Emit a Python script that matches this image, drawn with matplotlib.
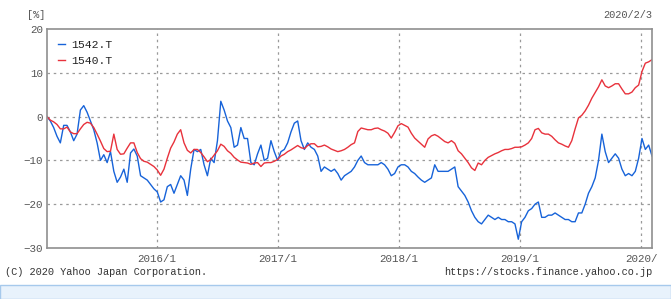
import matplotlib
matplotlib.use("Agg")
import matplotlib.pyplot as plt
import pandas as pd
from matplotlib.patches import Rectangle

plt.rcParams.update({
    "font.family": ["Liberation Mono", "DejaVu Sans Mono"],
    "font.size": 7.4,
})

# relative change [%] since 2015/2/3, sampled ~every 10 days
blue_1542 = [
    0, -1, -2.5, -4.5, -6, -2, -2, -3.5, -5.5, -4, 1.5, 2.5, 1,
    -1, -3, -6, -10, -8.7, -10.5, -8, -12.5, -15, -13.8, -12, -15, -8.3,
    -7.4, -9, -13.5, -14, -14.5, -15.5, -16.5, -17.2, -19.5, -19, -16, -15.5, -17.5,
    -15.5, -13.5, -14.5, -18, -12, -7.5, -8, -7.5, -11, -13.5, -9.5, -10.5, -5.5,
    3.5, 1.5, -1, -2.5, -7, -6.5, -2.5, -5, -5, -10.5, -11, -8.5, -6.5,
    -10, -9.5, -5.5, -8, -10, -8, -7.5, -6, -3.5, -1.5, -1, -5.5, -7.5,
    -6, -7, -7.5, -9, -12.5, -11.5, -12, -12.5, -12, -13, -14.5, -13.5, -13,
    -12.5, -11.5, -10, -9, -10.5, -11, -11, -11, -11, -10.5, -11, -12, -13.5,
    -13, -11.5, -11, -11, -11.5, -12.5, -13, -13.8, -14.5, -15, -14.5, -14, -11,
    -12.5, -12.5, -12.5, -12.5, -12, -11.5, -16, -17, -18, -19.5, -21.5, -23, -24,
    -24.5, -23.5, -22.5, -23, -23.5, -23, -23.5, -23.5, -24, -24, -24.5, -28, -24,
    -23, -21.5, -21, -20, -19.5, -23, -23, -22.5, -22.5, -22, -22.5, -23, -23.5,
    -23.5, -24, -24, -22, -22, -20, -17.5, -16, -14, -10, -4, -8, -10.5,
    -9.5, -8.5, -9.5, -12, -13.5, -13, -13.5, -12.5, -9.5, -5, -7.5, -6.5, -9,
]
red_1540 = [
    0, -0.8, -1.2, -1.8, -2.8, -2.8, -2.4, -3.5, -3.9, -3.9, -2.8, -1.8, -1.3,
    -1.5, -2.5, -4, -5.6, -7.3, -8, -7.9, -4, -7.5, -8.6, -8.5, -7.2, -6,
    -6, -8.2, -9.6, -10.2, -10.4, -10.9, -11.4, -12.2, -13.4, -12, -9.5, -7.2, -5.8,
    -4, -3, -6, -7.7, -8.3, -7.5, -7.5, -8.2, -9.2, -10.3, -9.8, -8.8, -7.8,
    -6.3, -6.8, -7.8, -8.4, -9.3, -9.9, -10.4, -10.5, -10.6, -10.9, -10.6, -10.5, -11.4,
    -10.6, -10.5, -10.5, -10.2, -9.8, -9, -8.6, -8, -7.6, -7.1, -6.6, -7.1, -7.3,
    -6.6, -6.2, -6.2, -6.9, -6.8, -6.5, -6.9, -7.4, -7.7, -8, -7.8, -7.5, -7,
    -6.4, -6, -3.4, -2.6, -2.8, -3, -3, -2.7, -2.6, -3, -3.3, -3.8, -4.9,
    -3.6, -2.1, -1.6, -2, -2.4, -3.8, -4.9, -5.6, -6.3, -7, -5.1, -4.4, -4.1,
    -4.5, -5.1, -5.7, -6, -5.5, -6.1, -7.8, -8.5, -9.5, -10.5, -11.7, -12.3, -10.6,
    -11, -10, -9.3, -8.9, -8.5, -8.2, -7.8, -7.5, -7.5, -7.3, -7, -7, -6.9,
    -6.5, -6, -5, -3, -2.7, -3.7, -4, -4, -4.5, -5.3, -6, -6.3, -6.7,
    -7, -5.5, -2.8, -0.3, 0.3, 1.3, 2.6, 4.2, 5.5, 6.8, 8.4, 7, 6.6,
    7, 7.5, 7.5, 6.3, 5.2, 5.2, 5.6, 6.6, 7.2, 10.3, 12.2, 12.5, 13,
]
dates = pd.date_range("2015-02-03", "2020-02-03", periods=len(blue_1542))

y_ticks = [-30, -20, -10, 0, 10, 20]
x_ticks = pd.to_datetime(["2016-01-01", "2017-01-01", "2018-01-01", "2019-01-01", "2020-01-01"])
x_labels = ["2016/1", "2017/1", "2018/1", "2019/1", "2020/"]

TXT = "#555555"
fig = plt.figure(figsize=(6.71, 2.99), dpi=100)
ax = fig.add_axes([0.070, 0.1706, 0.9017, 0.7324])

ax.plot(dates, blue_1542, color="#1763d9", lw=1.0, label="1542.T")
ax.plot(dates, red_1540, color="#e8323c", lw=1.0, label="1540.T")

ax.set_xlim(dates[0], dates[-1])
ax.set_ylim(-30, 20)
ax.set_yticks(y_ticks)
ax.set_xticks(x_ticks)
ax.set_xticklabels(x_labels)
ax.tick_params(length=0, colors=TXT, labelsize=7.8, pad=3)
ax.tick_params(axis="x", pad=4)

for y in y_ticks[1:-1]:
    ax.axhline(y, color="#9a9a9a", lw=0.9, ls=(0, (2, 3)), zorder=0)
for x in x_ticks:
    ax.axvline(x, color="#9a9a9a", lw=0.9, ls=(0, (2, 3)), zorder=0)
for s in ax.spines.values():
    s.set_color("#8f8f8f")
    s.set_linewidth(1.2)

leg = ax.legend(loc="upper left", frameon=False, handlelength=0.6, handletextpad=0.6,
                labelspacing=0.55, borderaxespad=0.5, borderpad=0.45, fontsize=8.2)
for t in leg.get_texts():
    t.set_color("#222222")

fig.text(27 / 671, 1 - 15 / 299, "[%]", color=TXT, fontsize=7.4, va="center", ha="left")
fig.text(652 / 671, 1 - 15 / 299, "2020/2/3", color=TXT, fontsize=7.4, va="center", ha="right")
fig.text(5 / 671, 1 - 272 / 299, "(C) 2020 Yahoo Japan Corporation.", color="#333333",
         fontsize=7.4, va="center", ha="left")
fig.text(652 / 671, 1 - 272 / 299, "https://stocks.finance.yahoo.co.jp", color="#333333",
         fontsize=7.4, va="center", ha="right")

fig.patches.append(Rectangle((0, 0), 1, 14 / 299, transform=fig.transFigure,
                             facecolor="#e8f2fc", edgecolor="#a6c9ec", lw=1.0))

fig.savefig("out.png", dpi=100)
